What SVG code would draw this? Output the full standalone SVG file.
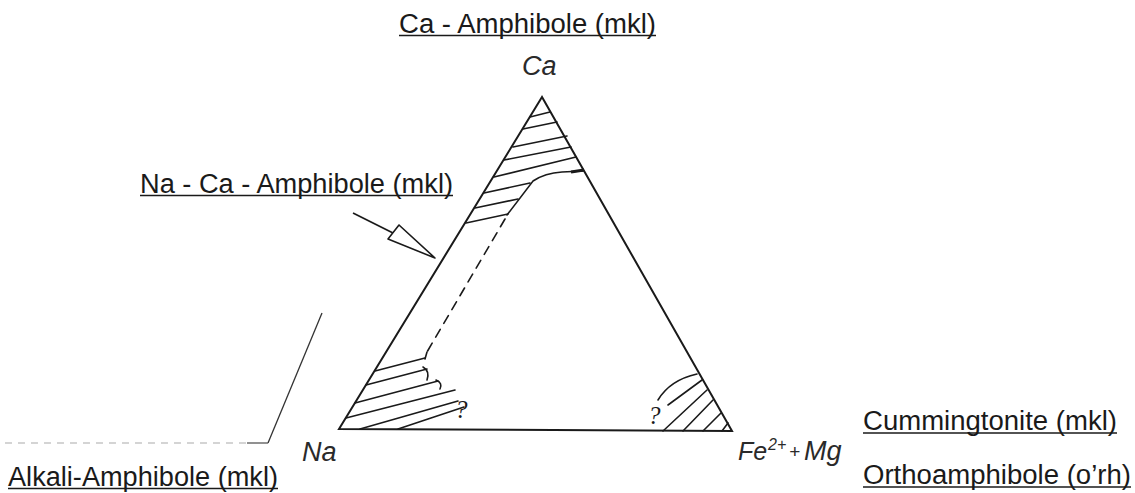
<svg xmlns="http://www.w3.org/2000/svg" width="1135" height="493" viewBox="0 0 1135 493">
<style>
.lbl{font-family:"Liberation Sans",Arial,sans-serif;font-size:27px;fill:#1a1a1a}
.it{font-family:"Liberation Sans",Arial,sans-serif;font-size:27px;font-style:italic;fill:#2a2a2a}
.ul{stroke:#1a1a1a;stroke-width:1.6}
.edge{fill:none;stroke:#1a1a1a;stroke-width:2}
.hatch{fill:none;stroke:#1a1a1a;stroke-width:1.6;stroke-linecap:round}
.q{font-family:"Liberation Serif",serif;font-size:25px;font-style:italic;fill:#1a1a1a}
</style>
<rect width="1135" height="493" fill="#ffffff"/>

<g id="triangle">
  <path class="edge" d="M542,97 L339,429 L732,431 Z"/>
</g>

<g id="ca-field">
  <path class="hatch" d="M583,171 L562,172 Q545,173 533,181 L507,215"/>
  <path d="M571,172 L584,170" stroke="#1a1a1a" stroke-width="3"/>
  <path class="hatch" d="M530,117 L550,112 M523,129 L557,122 M513,147 L567,136 M504,160 L571,147 M494,177 L576,157 M484,193 L530,183 M475,208 L518,199 M466,223 L508,214"/>
  <path class="hatch" d="M505,219 L427,352" stroke-dasharray="9,7"/>
</g>

<g id="na-field">
  <path class="hatch" d="M427,352 L425,359 M423,367 Q430,371 427,380 M436,380 Q443,383 440,389"/>
  <path class="hatch" d="M375,371 L425,358 M366,385 L427,369 M355,403 L438,381 M346,418 L455,390 M360,429 L458,401 M398,429 L464,407"/>
  <text class="q" x="455" y="418">?</text>
</g>

<g id="femg-field">
  <path class="hatch" d="M697,374 Q670,380 658,400"/>
  <path class="hatch" d="M668,405 L702,380 M663,431 L707,390 M683,431 L713,400 M703,431 L721,413 M722,431 L728,423"/>
  <text class="q" x="648" y="424">?</text>
</g>

<g id="connectors">
  <path d="M353,213 L393,233" stroke="#1a1a1a" stroke-width="1.6" fill="none"/>
  <polygon points="388,239 399,225 435,258" fill="#ffffff" stroke="#1a1a1a" stroke-width="1.6" stroke-linejoin="round"/>
  <path d="M322,313 L268,443" stroke="#333" stroke-width="1.3" fill="none"/>
  <path d="M5,443 L247,443" stroke="#aaa" stroke-width="1.2" stroke-dasharray="7,6" fill="none"/>
  <path d="M247,443 L268,443" stroke="#555" stroke-width="1.3" fill="none"/>
</g>

<g id="label-ca-amphibole">
  <text class="lbl" x="399" y="33" textLength="257" lengthAdjust="spacingAndGlyphs">Ca - Amphibole (mkl)</text>
  <line class="ul" x1="399" y1="35.5" x2="656" y2="35.5"/>
</g>
<g id="vertex-ca">
  <text class="it" x="522" y="75">Ca</text>
</g>
<g id="label-na-ca-amphibole">
  <text class="lbl" x="140" y="193" textLength="313" lengthAdjust="spacingAndGlyphs">Na - Ca - Amphibole (mkl)</text>
  <line class="ul" x1="140" y1="195.5" x2="453" y2="195.5"/>
</g>
<g id="label-alkali-amphibole">
  <text class="lbl" x="8" y="486" textLength="270" lengthAdjust="spacingAndGlyphs">Alkali-Amphibole (mkl)</text>
  <line class="ul" x1="8" y1="488.5" x2="278" y2="488.5"/>
</g>
<g id="vertex-na">
  <text class="it" x="302" y="461">Na</text>
</g>
<g id="vertex-femg">
  <text class="it" x="738" y="460" style="font-size:25px">Fe</text>
  <text class="it" x="768" y="450" style="font-size:16px">2+</text>
  <text class="it" x="789" y="458" style="font-size:19px">+</text>
  <text class="it" x="804" y="460">Mg</text>
</g>
<g id="label-cummingtonite">
  <text class="lbl" x="863" y="430" textLength="254" lengthAdjust="spacingAndGlyphs">Cummingtonite (mkl)</text>
  <line class="ul" x1="863" y1="433" x2="1117" y2="433"/>
</g>
<g id="label-orthoamphibole">
  <text class="lbl" x="863" y="484" textLength="268" lengthAdjust="spacingAndGlyphs">Orthoamphibole (o’rh)</text>
  <line class="ul" x1="863" y1="487" x2="1131" y2="487"/>
</g>
</svg>
